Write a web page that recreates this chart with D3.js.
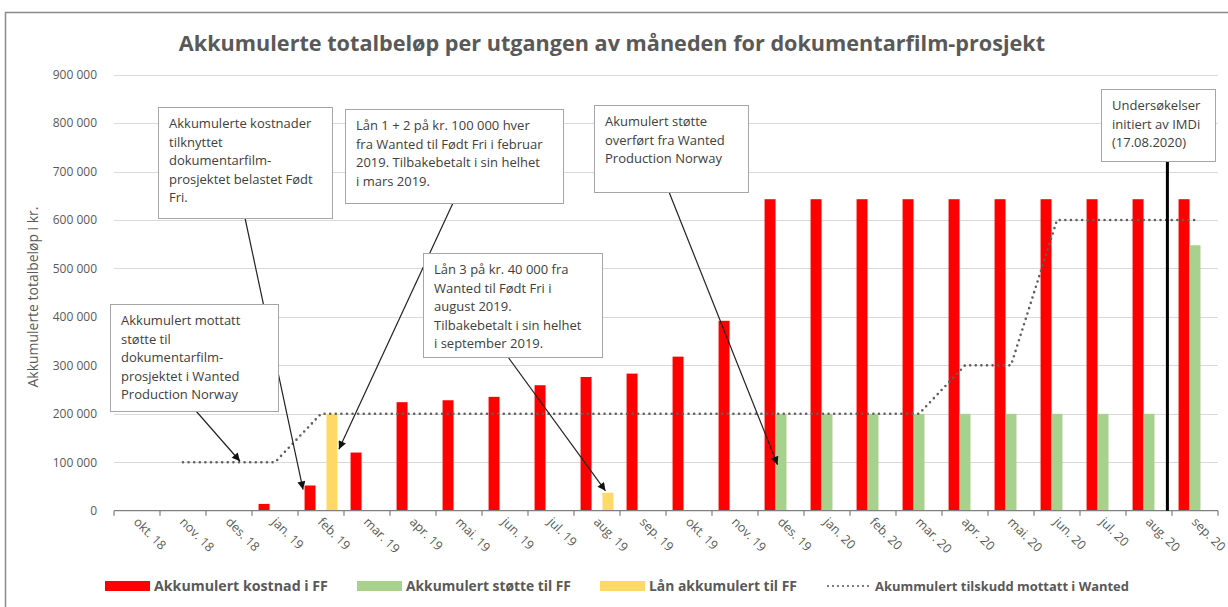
<!DOCTYPE html>
<html><head><meta charset="utf-8">
<script src="https://cdn.jsdelivr.net/npm/d3@7"></script>
<style>
body{margin:0;background:#fff}
svg{display:block}
text{font-family:"Open Sans",sans-serif}
</style>
</head><body>
<svg id="chart" width="1228" height="607"></svg>
<script>
// ---------------- DATA ----------------
const categories = ["okt. 18","nov. 18","des. 18","jan. 19","feb. 19","mar. 19","apr. 19","mai. 19","jun. 19","jul. 19","aug. 19","sep. 19","okt. 19","nov. 19","des. 19","jan. 20","feb. 20","mar. 20","apr. 20","mai. 20","jun. 20","jul. 20","aug. 20","sep. 20"];
const kostnadFF = [0,0,0,14000,52000,120000,224000,228000,235000,259000,276000,283000,318000,392000,643000,643000,643000,643000,643000,643000,643000,643000,643000,643000];
const stotteFF  = [0,0,0,0,0,0,0,0,0,0,0,0,0,0,200000,200000,200000,200000,200000,200000,200000,200000,200000,548000];
const laanFF    = [0,0,0,0,200000,0,0,0,0,0,37000,0,0,0,0,0,0,0,0,0,0,0,0,0];
const tilskuddWanted = [null,100000,100000,100000,200000,200000,200000,200000,200000,200000,200000,200000,200000,200000,200000,200000,200000,200000,300000,300000,600000,600000,600000,600000];
const yTicks = [0,100000,200000,300000,400000,500000,600000,700000,800000,900000];
const seriesKeys = ["kost","stotte","laan"];
const seriesNames = ["Akkumulert kostnad i FF","Akkumulert støtte til FF","Lån akkumulert til FF","Akummulert tilskudd mottatt i Wanted"];
const titleText = "Akkumulerte totalbeløp per utgangen av måneden for dokumentarfilm-prosjekt";
const yTitle = "Akkumulerte totalbeløp i kr.";
const eventCategory = "aug. 20";
const eventText = ["Undersøkelser","initiert av IMDi","(17.08.2020)"];
const annotationTexts = [
  ["Akkumulerte kostnader","tilknyttet","dokumentarfilm-","prosjektet belastet Født","Fri."],
  ["Lån 1 + 2 på kr. 100 000 hver","fra Wanted til Født Fri i februar","2019. Tilbakebetalt i sin helhet","i mars 2019."],
  ["Lån 3 på kr. 40 000 fra","Wanted til Født Fri i","august 2019.","Tilbakebetalt i sin helhet","i september 2019."],
  ["Akkumulert mottatt","støtte til","dokumentarfilm-","prosjektet i Wanted","Production Norway"],
  ["Akumulert støtte","overført fra Wanted","Production Norway"]
];
// what each annotation arrow points at (category, series, value)
const annotationTargets = [
  {cat:"feb. 19", series:"kost", value:52000},
  {cat:"feb. 19", series:"laan", value:127000},
  {cat:"aug. 19", series:"laan", value:37000},
  {cat:"des. 18", series:"line", value:100000},
  {cat:"des. 19", series:"stotte", value:95000}
];

// ---------------- LAYOUT / STYLE ----------------
const colors = {kost:"#ff0000", stotte:"#a9d18e", laan:"#ffd966", line:"#5f5f5f"};
const boxes = [
  {x:158, y:107, w:174, h:111, sx:245, sy:218, ax:-1.5, ay:4},
  {x:345, y:109, w:218, h:94,  sx:453, sy:203, ax:1.5, ay:0},
  {x:423, y:253, w:179, h:104, sx:508, sy:357, ax:3, ay:-2},
  {x:110, y:304, w:168, h:107, sx:196, sy:411, ax:11, ay:-1},
  {x:594, y:105, w:154, h:87,  sx:669, sy:192, ax:2, ay:0}
];
const eventBox = {x:1101, y:89, w:114, h:72};
const legendWidths = [174, 165, 148, 254];

const svg = d3.select("#chart");
const x = d3.scaleBand().domain(categories).range([114, 1218]).paddingInner(0).paddingOuter(0);
const xs = d3.scaleBand().domain(seriesKeys).range([0, x.bandwidth()]).paddingInner(0).paddingOuter(0.6);
const y = d3.scaleLinear().domain([0, 900000]).range([510.7, 74.7]);
const fmt = d3.formatLocale({decimal:",", thousands:" ", grouping:[3], currency:["",""]}).format(",");

function fitText(sel, target){
  const w = sel.node().getComputedTextLength();
  const fs = parseFloat(sel.style("font-size"));
  sel.style("font-size", (fs*target/w).toFixed(2)+"px");
}

// frame
svg.append("rect").attr("x",5.5).attr("y",12.5).attr("width",1240).attr("height",640)
  .attr("fill","none").attr("stroke","#8a8a8a").attr("stroke-width",1.5);

// gridlines
svg.append("g").selectAll("line").data(yTicks.filter(d=>d>0)).join("line")
  .attr("x1",114).attr("x2",1218).attr("y1",d=>Math.round(y(d))+0.5).attr("y2",d=>Math.round(y(d))+0.5)
  .attr("stroke","#d9d9d9").attr("stroke-width",1);

// y axis labels
const yAxis = svg.append("g").attr("transform","translate(114,0)")
  .call(d3.axisLeft(y).tickValues(yTicks).tickSize(0).tickPadding(17).tickFormat(fmt));
yAxis.select(".domain").remove();
yAxis.selectAll("text").attr("fill","#595959").style("font-size","12px").style("font-family","'Open Sans',sans-serif");

// y title
const yt = svg.append("text").attr("transform","translate(38,297) rotate(-90)")
  .attr("text-anchor","middle").attr("fill","#595959").style("font-size","13px").text(yTitle);
fitText(yt, 181);

// bars
const seriesData = {kost:kostnadFF, stotte:stotteFF, laan:laanFF};
seriesKeys.forEach(k=>{
  svg.append("g").selectAll("rect")
    .data(categories.map((c,i)=>({c, v:seriesData[k][i]})).filter(d=>d.v>0))
    .join("rect")
    .attr("x",d=>x(d.c)+xs(k)).attr("width",xs.bandwidth())
    .attr("y",d=>y(d.v)).attr("height",d=>y(0)-y(d.v))
    .attr("fill",colors[k]);
});

// dotted line
const line = d3.line().defined(d=>d.v!=null).x(d=>x(d.c)+x.bandwidth()/2).y(d=>y(d.v));
svg.append("path").datum(categories.map((c,i)=>({c, v:tilskuddWanted[i]})))
  .attr("d",line).attr("fill","none").attr("stroke",colors.line)
  .attr("stroke-width",2.6).attr("stroke-linecap","round").attr("stroke-dasharray","0,5.6");

// x axis
const xa = svg.append("g");
xa.append("line").attr("x1",114).attr("x2",1218).attr("y1",y(0)).attr("y2",y(0))
  .attr("stroke","#7f7f7f").attr("stroke-width",1.2);
const bounds = categories.map(c=>x(c)).concat([x.range()[1]]);
xa.selectAll("line.tk").data(bounds).join("line").attr("class","tk")
  .attr("x1",d=>d).attr("x2",d=>d).attr("y1",y(0)).attr("y2",y(0)+5)
  .attr("stroke","#7f7f7f").attr("stroke-width",1.2);
xa.selectAll("text").data(categories).join("text")
  .attr("transform",d=>`translate(${x(d)+x.bandwidth()/2-4},${y(0)+12}) rotate(45)`)
  .attr("text-anchor","start").attr("fill","#595959").style("font-size","12.5px").text(d=>d);

// event line
const ex = x(eventCategory) + x.bandwidth()*0.9;
svg.append("line").attr("x1",ex).attr("x2",ex).attr("y1",eventBox.y+eventBox.h).attr("y2",y(0))
  .attr("stroke","#000").attr("stroke-width",3);

// arrow marker
svg.append("defs").append("marker").attr("id","arr").attr("viewBox","0 0 10 10")
  .attr("refX",10).attr("refY",5).attr("markerWidth",10).attr("markerHeight",8)
  .attr("markerUnits","userSpaceOnUse").attr("orient","auto")
  .append("path").attr("d","M0,0 L10,5 L0,10 z").attr("fill","#111");

// arrows
annotationTargets.forEach((t,i)=>{
  const b = boxes[i];
  let tx;
  if (t.series==="line") tx = x(t.cat)+x.bandwidth()/2;
  else tx = x(t.cat)+xs(t.series) + (t.series==="laan" && i===1 ? xs.bandwidth() : 0);
  tx += b.ax;
  const ty = y(t.value) + b.ay;
  svg.append("line").attr("x1",b.sx).attr("y1",b.sy).attr("x2",tx).attr("y2",ty)
    .attr("stroke","#222").attr("stroke-width",1.2).attr("marker-end","url(#arr)");
});

// boxes
function drawBox(b, lines){
  const g = svg.append("g");
  g.append("rect").attr("x",b.x+0.5).attr("y",b.y+0.5).attr("width",b.w).attr("height",b.h)
    .attr("fill","#fff").attr("stroke","#a6a6a6").attr("stroke-width",1);
  g.selectAll("text").data(lines).join("text")
    .attr("x",b.x+11).attr("y",(d,i)=>b.y+21+i*18.5)
    .attr("fill","#404040").style("font-size","13px").text(d=>d);
}
boxes.forEach((b,i)=>drawBox(b, annotationTexts[i]));
drawBox(eventBox, eventText);

// legend
const lg = svg.append("g");
let lx = 105; const ly = 586;
seriesNames.forEach((n,i)=>{
  if (i<3){
    lg.append("rect").attr("x",lx).attr("y",ly-5).attr("width",45).attr("height",10).attr("fill",colors[seriesKeys[i]]);
  } else {
    lg.append("line").attr("x1",lx+2).attr("x2",lx+43).attr("y1",ly).attr("y2",ly)
      .attr("stroke",colors.line).attr("stroke-width",2.2).attr("stroke-linecap","round").attr("stroke-dasharray","0,5");
  }
  const t = lg.append("text").attr("x",lx+49).attr("y",ly+4.5).attr("fill","#595959")
    .style("font-size","13px").style("font-weight","700").text(n);
  fitText(t, legendWidths[i]);
  lx += 49 + legendWidths[i] + 29;
});

// title
const tt = svg.append("text").attr("x",612).attr("y",51).attr("text-anchor","middle")
  .attr("fill","#595959").style("font-size","21px").style("font-weight","700").text(titleText);
fitText(tt, 867);
</script>
</body></html>
